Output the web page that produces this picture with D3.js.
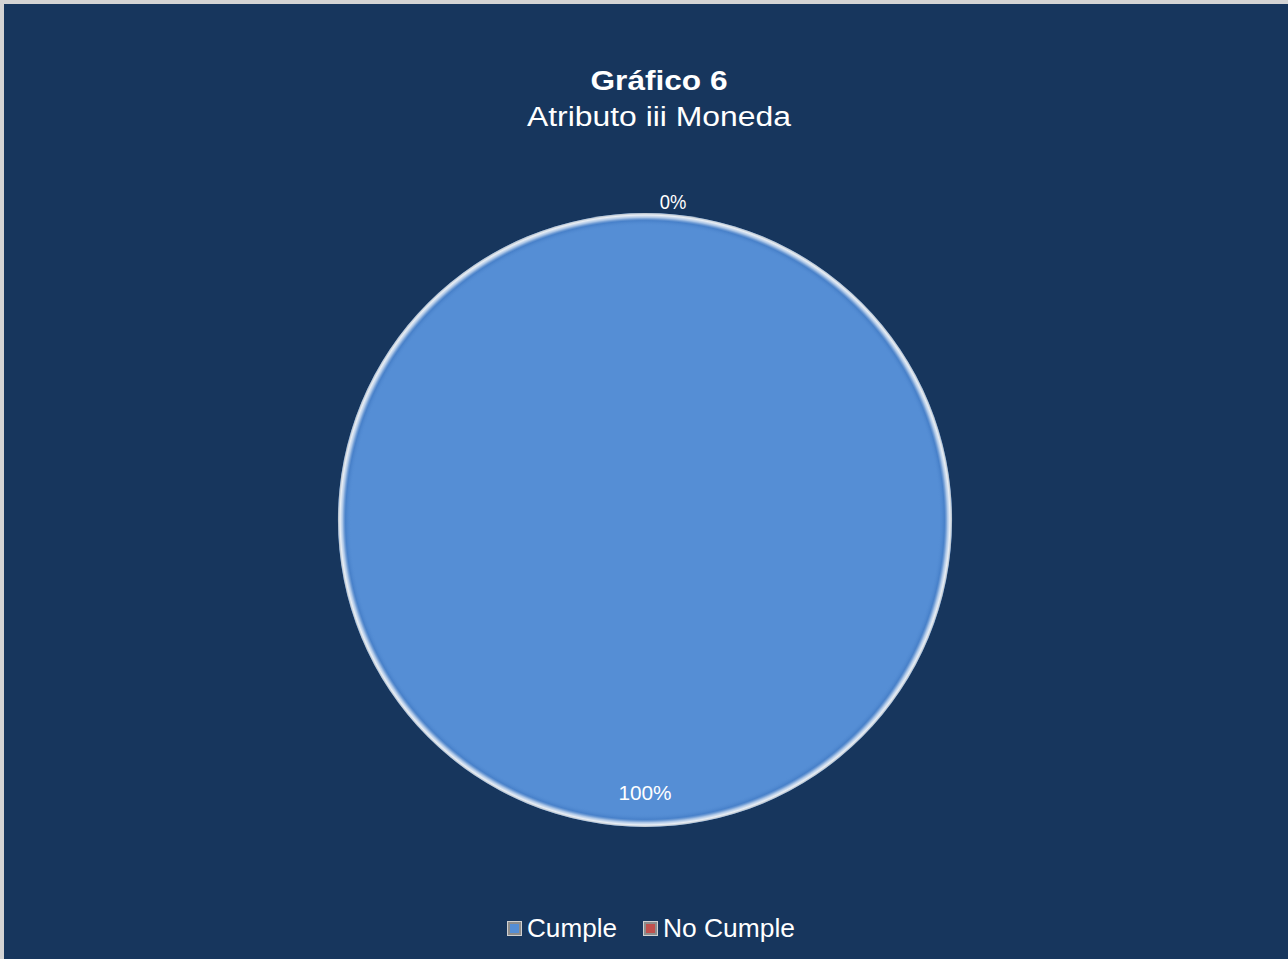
<!DOCTYPE html>
<html>
<head>
<meta charset="utf-8">
<script src="https://cdn.jsdelivr.net/npm/d3@7/dist/d3.min.js"></script>
<style>
  html, body { margin: 0; padding: 0; background: #d4d4d4; }
  svg { display: block; }
  text { font-family: "Liberation Sans", Arial, sans-serif; fill: #ffffff; }
</style>
</head>
<body>
<script>
// Chart data
const categories = ["Cumple", "No Cumple"];
const values = [100, 0];
const valueLabels = ["100%", "0%"];
const colors = ["#558ed5", "#c0504d"];
const titleText = "Gráfico 6";
const subtitleText = "Atributo iii Moneda";

const W = 1288, H = 959;
const svg = d3.select("body").append("svg").attr("width", W).attr("height", H);

// chart area panel
svg.append("rect").attr("x", 4).attr("y", 4).attr("width", W - 4).attr("height", H - 4)
  .attr("fill", "#17365d");

const defs = svg.append("defs");

// bevel along the rim of the pie
const rimGrad = defs.append("radialGradient").attr("id", "rim")
  .attr("gradientUnits", "userSpaceOnUse").attr("cx", 0).attr("cy", 0).attr("r", 308);
[[0, "#558ed5", 0], [0.955, "#558ed5", 0], [0.972, "#3f78c2", 0.6], [0.982, "#a9c4e6", 1], [0.99, "#e8eef5", 1], [0.996, "#b8c2cc", 1], [1, "#7f8c9c", 1]]
  .forEach(([o, c, a]) => rimGrad.append("stop").attr("offset", o).attr("stop-color", c).attr("stop-opacity", a));

const cx = 645, cy = 520, R = 307;
const g = svg.append("g").attr("transform", `translate(${cx},${cy})`);

const pie = d3.pie().sort(null).value(d => d.value);
const arcs = pie(categories.map((c, i) => ({ name: c, value: values[i], label: valueLabels[i], color: colors[i] })));
const arc = d3.arc().innerRadius(0).outerRadius(R);

g.selectAll("path.slice").data(arcs).join("path")
  .attr("class", "slice")
  .attr("d", arc)
  .attr("fill", d => d.data.color);

// rim bevel over the full disc
g.append("circle").attr("r", R).attr("fill", "url(#rim)");

// data labels
const inner = d3.arc().innerRadius(R * 0.89).outerRadius(R * 0.89);
const outer = d3.arc().innerRadius(R * 1.035).outerRadius(R * 1.035);
g.selectAll("text.val").data(arcs).join("text")
  .attr("class", "val")
  .attr("text-anchor", "middle")
  .attr("font-size", 20)
  .attr("transform", d => {
    if (d.endAngle - d.startAngle > 0.01) {
      const [x, y] = inner.centroid(d);
      return `translate(${x},${y + 7})`;
    }
    const [x, y] = outer.centroid(d);
    return `translate(${x + 28},${y + 7})`;
  })
  .attr("textLength", d => d.data.label.length * 13.3)
  .attr("lengthAdjust", "spacingAndGlyphs")
  .text(d => d.data.label);

// title
svg.append("text").attr("x", 659).attr("y", 90).attr("text-anchor", "middle")
  .attr("font-size", 27).attr("font-weight", "bold")
  .attr("textLength", 137).attr("lengthAdjust", "spacingAndGlyphs").text(titleText);
svg.append("text").attr("x", 659).attr("y", 126).attr("text-anchor", "middle")
  .attr("font-size", 27)
  .attr("textLength", 264).attr("lengthAdjust", "spacingAndGlyphs").text(subtitleText);

// legend
const legendX = [507, 643];
const legendW = [90, 132];
const legend = svg.append("g");
categories.forEach((c, i) => {
  const lg = legend.append("g").attr("transform", `translate(${legendX[i]},921)`);
  lg.append("rect").attr("width", 15).attr("height", 15).attr("fill", "#d0d0d0");
  lg.append("rect").attr("x", 1).attr("y", 1).attr("width", 13).attr("height", 13).attr("fill", "#8c8c8c");
  lg.append("rect").attr("x", 3).attr("y", 3).attr("width", 9).attr("height", 9).attr("fill", colors[i]);
  lg.append("text").attr("x", 20).attr("y", 16).attr("font-size", 25)
    .attr("textLength", legendW[i]).attr("lengthAdjust", "spacingAndGlyphs").text(c);
});
</script>
</body>
</html>
